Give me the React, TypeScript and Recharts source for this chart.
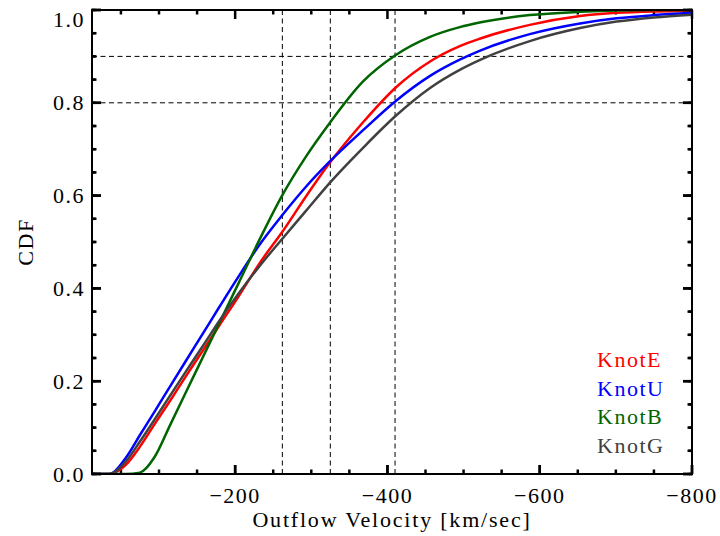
import React from 'react';
import { LineChart, Line, XAxis, YAxis, ReferenceLine } from 'recharts';

// outflow velocity grid, km/s (blue-shifted, so negative)
const velocity = [-12, -35, -56, -75, -94, -115, -135, -160, -180, -205, -232, -262, -293, -324, -368, -411, -456, -495, -521, -587, -653, -701, -750, -800];

// cumulative fractions per knot on the grid above
const knotE = [0, 0, 0.019, 0.059, 0.107, 0.159, 0.21, 0.272, 0.322, 0.384, 0.454, 0.522, 0.598, 0.67, 0.758, 0.833, 0.889, 0.922, 0.938, 0.968, 0.987, 0.994, 0.997, 0.998];
const knotU = [0, 0, 0.034, 0.084, 0.134, 0.19, 0.243, 0.309, 0.362, 0.427, 0.494, 0.558, 0.619, 0.673, 0.741, 0.804, 0.858, 0.893, 0.912, 0.948, 0.971, 0.982, 0.989, 0.994];
const knotB = [0, 0, 0, 0.003, 0.036, 0.107, 0.175, 0.26, 0.328, 0.413, 0.505, 0.601, 0.684, 0.756, 0.846, 0.903, 0.942, 0.963, 0.973, 0.989, 0.996, 0.999, 1, 1];
const knotG = [0, 0, 0.026, 0.07, 0.117, 0.17, 0.22, 0.282, 0.332, 0.39, 0.448, 0.507, 0.567, 0.627, 0.703, 0.772, 0.832, 0.871, 0.892, 0.933, 0.961, 0.975, 0.984, 0.99];

// dashed guide lines
const velocityMarks = [-262, -325, -410];
const cdfMarks = [0.8, 0.9];

const xMajor = [-200, -400, -600, -800];
const xMinor = [-50, -100, -150, -200, -250, -300, -350, -400, -450, -500, -550, -600, -650, -700, -750, -800];
const yMajor = [0, 0.2, 0.4, 0.6, 0.8, 1];
const yMinor = [0, 0.05, 0.1, 0.15, 0.2, 0.25, 0.3, 0.35, 0.4, 0.45, 0.5, 0.55, 0.6, 0.65, 0.7, 0.75, 0.8, 0.85, 0.9, 0.95, 1];

const series = [
  { name: 'KnotE', color: '#ff0000', values: knotE },
  { name: 'KnotU', color: '#0000ff', values: knotU },
  { name: 'KnotB', color: '#006400', values: knotB },
  { name: 'KnotG', color: '#404040', values: knotG },
];

const FONT = 'Liberation Serif';
const X_DOMAIN: [number, number] = [-800, -12];
const Y_DOMAIN: [number, number] = [0, 1];
const [X_FAR, X_NEAR] = X_DOMAIN;
const [Y_LOW, Y_HIGH] = Y_DOMAIN;

// inward tick lengths in data units (9px major, 4.5px minor on a 600x464 plot)
const X_TICK = 11.8;
const Y_TICK = 0.0194;
const isMajorX = (v: number) => xMajor.includes(v);
const isMajorY = (v: number) => yMajor.includes(v);

const fmtVel = (v: number) => (v === 0 ? '0' : `\u2212${Math.abs(v)}`);
const blank = () => '';

const tickFont = { fontFamily: FONT, fontSize: 22, fill: '#000', letterSpacing: 1.5 };
const htmlFont = { fontFamily: FONT, fontSize: 22, letterSpacing: 1.5, color: '#000' };

const frame = { stroke: '#000', strokeWidth: 2 };
const tickLine = { stroke: '#000', strokeWidth: 2.5 };
const dashed = { stroke: '#000', strokeWidth: 1, strokeDasharray: '5 3.5' };

// top label sits just inside the frame
const LeftLabel = ({ x, y, payload }: any) => (
  <text x={x} y={y + (payload.value === 1 ? 9 : 0)} textAnchor="end" dominantBaseline="central" style={tickFont}>
    {payload.value.toFixed(1)}
  </text>
);

const xShared = { type: 'number' as const, domain: X_DOMAIN, reversed: true, allowDataOverflow: true, interval: 0, height: 1, tickLine };
const yShared = { type: 'number' as const, domain: Y_DOMAIN, allowDataOverflow: true, interval: 0, width: 1, tickLine };

export default function App() {
  return (
    <div style={{ position: 'absolute', left: 0, top: 0, width: 720, height: 536, background: '#fff' }}>
      <LineChart width={720} height={536} margin={{ top: 8, right: 26, bottom: 60, left: 90 }}>
        <XAxis {...xShared} dataKey="v" ticks={xMajor} tickSize={-9} tickMargin={22.7} axisLine={frame} tick={tickFont} tickFormatter={fmtVel} />
        <XAxis {...xShared} xAxisId="bottomMinor" ticks={xMinor} tickSize={-4.5} axisLine={false} tickFormatter={blank} />
        <XAxis {...xShared} xAxisId="top" orientation="top" ticks={xMajor} tickSize={-9} axisLine={frame} tickFormatter={blank} />
        <XAxis {...xShared} xAxisId="topMinor" orientation="top" ticks={xMinor} tickSize={-4.5} axisLine={false} tickFormatter={blank} />
        <YAxis {...yShared} ticks={yMajor} tickSize={-9} tickMargin={16} axisLine={frame} tick={(p: any) => <LeftLabel {...p} />} />
        <YAxis {...yShared} yAxisId="leftMinor" ticks={yMinor} tickSize={-4.5} axisLine={false} tickFormatter={blank} />
        <YAxis {...yShared} yAxisId="right" orientation="right" ticks={yMajor} tickSize={-9} axisLine={frame} tickFormatter={blank} />
        <YAxis {...yShared} yAxisId="rightMinor" orientation="right" ticks={yMinor} tickSize={-4.5} axisLine={false} tickFormatter={blank} />

        {/* frame ticks through the data scales, pointing inward */}
        {xMinor.map((v) => {
          const len = isMajorX(v) ? Y_TICK : Y_TICK / 2;
          return [
            <ReferenceLine key={`tb-${v}`} segment={[{ x: v, y: Y_LOW }, { x: v, y: Y_LOW + len }]} ifOverflow="visible" {...tickLine} />,
            <ReferenceLine key={`tt-${v}`} segment={[{ x: v, y: Y_HIGH }, { x: v, y: Y_HIGH - len }]} ifOverflow="visible" {...tickLine} />,
          ];
        })}
        {yMinor.map((c) => {
          const len = isMajorY(c) ? X_TICK : X_TICK / 2;
          return [
            <ReferenceLine key={`tl-${c}`} segment={[{ x: X_NEAR, y: c }, { x: X_NEAR - len, y: c }]} ifOverflow="visible" {...tickLine} />,
            <ReferenceLine key={`tr-${c}`} segment={[{ x: X_FAR, y: c }, { x: X_FAR + len, y: c }]} ifOverflow="visible" {...tickLine} />,
          ];
        })}

        {velocityMarks.map((v) => (
          <ReferenceLine key={`vx-${v}`} x={v} {...dashed} />
        ))}
        {cdfMarks.map((c) => (
          <ReferenceLine key={`cy-${c}`} y={c} {...dashed} />
        ))}
        {series.map((s) => (
          <Line
            key={s.name}
            name={s.name}
            data={velocity.map((v, i) => ({ v, cdf: s.values[i] }))}
            dataKey="cdf"
            type="monotone"
            stroke={s.color}
            strokeWidth={2.5}
            dot={false}
            isAnimationActive={false}
          />
        ))}
      </LineChart>

      {/* axis titles */}
      <div style={{ ...htmlFont, position: 'absolute', left: 92, top: 507, width: 600, lineHeight: '26px', textAlign: 'center', letterSpacing: 1.8 }}>
        Outflow Velocity [km/sec]
      </div>
      <div style={{ ...htmlFont, position: 'absolute', left: 26, top: 242, lineHeight: '26px', transform: 'translate(-50%, -50%) rotate(-90deg)' }}>
        CDF
      </div>

      {/* key: series names in their line colours */}
      <div style={{ ...htmlFont, position: 'absolute', left: 597, top: 346, lineHeight: '28.7px' }}>
        {series.map((s) => (
          <div key={s.name} style={{ color: s.color }}>
            {s.name}
          </div>
        ))}
      </div>
    </div>
  );
}
